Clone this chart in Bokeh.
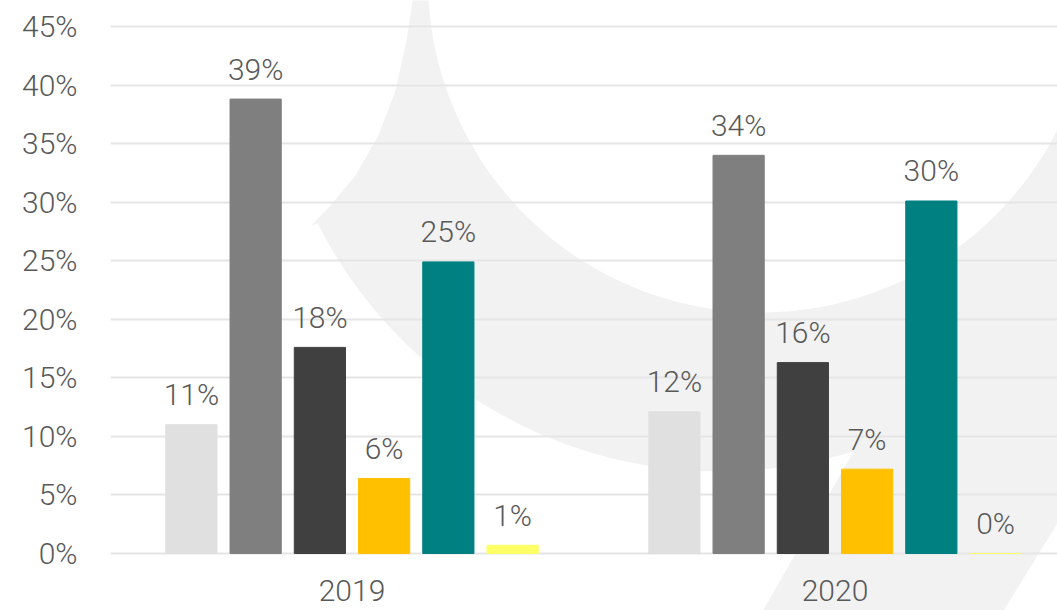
import numpy as np
from bokeh.plotting import figure
from bokeh.models import Range1d, FixedTicker, PrintfTickFormatter, ColumnDataSource
from bokeh.transform import dodge
from bokeh.core.properties import value
from bokeh.embed import file_html
from bokeh.resources import INLINE

# ---------------- data ----------------
years = ["2019", "2020"]
series_a = [11.0, 12.1]   # light grey
series_b = [38.8, 34.0]   # grey
series_c = [17.6, 16.3]   # dark grey
series_d = [6.4, 7.2]     # amber
series_e = [24.9, 30.1]   # teal
series_f = [0.7, 0.0]     # light yellow
y_ticks = [0, 5, 10, 15, 20, 25, 30, 35, 40, 45]

series = [series_a, series_b, series_c, series_d, series_e, series_f]
colors = ["#E0E0E0", "#7F7F7F", "#404040", "#FFC000", "#008080", "#FFFF66"]
names = ["a", "b", "c", "d", "e", "f"]

FONT = "Roboto Light"
TXT = "#595959"

src_data = {"x": [i + 0.5 for i in range(len(years))], "year": years,
            "zero": [0] * len(years)}
for n, s in zip(names, series):
    src_data[n] = s
    src_data[n + "_lbl"] = ["%d%%" % round(v) for v in s]
source = ColumnDataSource(src_data)

p = figure(width=1057, height=610, output_backend="svg", toolbar_location=None,
           x_range=Range1d(0, 1.9607), y_range=Range1d(-4.867, 47.22),
           min_border_left=110, min_border_right=0, min_border_top=0,
           min_border_bottom=0)
p.outline_line_color = None
p.background_fill_color = "white"
p.border_fill_color = "white"

# ---------------- background watermark (decoration) ----------------
def px2x(px):
    return (np.asarray(px, dtype=float) - 110.0) / 483.0

def px2y(py):
    return (553.0 - np.asarray(py, dtype=float)) / 11.711

horn_x = [413, 406, 395, 378, 355, 330, 310]
horn_y = [-5, 40, 90, 135, 175, 205, 226]
cx1, cy1, r1 = 720.0, 20.0, 451.0
a0 = np.arctan2(226 - cy1, 310 - cx1)
a1 = np.arctan2(451 - cy1, 853 - cx1)
ang = np.linspace(a0, a1, 60)
outer_x = list(cx1 + r1 * np.cos(ang))
outer_y = list(cy1 + r1 * np.sin(ang))
stripe_x = [757, 997, 1102]
stripe_y = [620, 620, 450]
cx2, cy2, r2 = 760.0, -20.6, 332.6
b0 = np.arctan2(0 - cy2, 1092 - cx2)
b1 = np.arctan2(-5 - cy2, 428 - cx2)
ang2 = np.linspace(b0, b1, 80)
inner_x = [1102] + list(cx2 + r2 * np.cos(ang2))
inner_y = [0] + list(cy2 + r2 * np.sin(ang2))

wm_x = horn_x + outer_x + stripe_x + inner_x
wm_y = horn_y + outer_y + stripe_y + inner_y
p.patch(px2x(wm_x), px2y(wm_y), fill_color="#F2F2F2", line_color=None, level="image")

# ---------------- bars ----------------
step = 0.133
width = 0.106
for i, (n, c) in enumerate(zip(names, colors)):
    off = (i - 2.5) * step
    p.vbar(x=dodge("x", off, range=p.x_range), top=n, width=width, bottom=0,
           source=source, fill_color=c, line_color=c)
    p.text(x=dodge("x", off, range=p.x_range), y=n, text=n + "_lbl", source=source,
           text_align="center", text_baseline="middle", y_offset=-30,
           text_font=value(FONT), text_font_size="30px", text_color=TXT)

# category labels under the baseline
p.text(x="x", y="zero", text="year", source=source, text_align="center",
       text_baseline="middle", y_offset=37, text_font=value(FONT),
       text_font_size="30px", text_color=TXT)

# ---------------- axes / grid ----------------
p.xaxis.visible = False
p.xgrid.grid_line_color = None
p.ygrid.ticker = FixedTicker(ticks=y_ticks)
p.ygrid.grid_line_color = "#E5E5E5"
p.ygrid.grid_line_width = 2

p.yaxis.ticker = FixedTicker(ticks=y_ticks)
p.yaxis.formatter = PrintfTickFormatter(format="%d%%")
p.yaxis.axis_line_color = None
p.yaxis.major_tick_line_color = None
p.yaxis.minor_tick_line_color = None
p.yaxis.major_label_standoff = 27
p.yaxis.major_label_text_font = FONT
p.yaxis.major_label_text_font_size = "30px"
p.yaxis.major_label_text_color = TXT

open("out.html", "w").write(file_html(p, INLINE))
